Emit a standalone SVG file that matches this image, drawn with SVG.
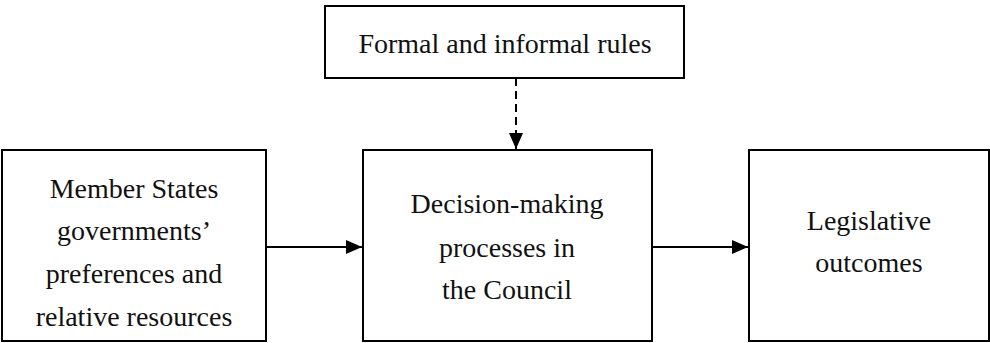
<svg xmlns="http://www.w3.org/2000/svg" width="990" height="343" viewBox="0 0 990 343">
<style>
.box{fill:#fff;stroke:#000;stroke-width:2}
.t{font-family:"Liberation Serif","Times New Roman",serif;font-size:28px;fill:#111;text-anchor:middle}
.c{stroke:#000;stroke-width:2;fill:none}
</style>
<defs>
<marker id="ah" viewBox="0 0 16 14" refX="16" refY="7" markerWidth="16" markerHeight="14" markerUnits="userSpaceOnUse" orient="auto">
<path d="M0,0 L16,7 L0,14 Z" fill="#000"/>
</marker>
</defs>
<rect width="990" height="343" fill="#fff"/>
<g id="rules">
<rect class="box" x="325" y="6" width="359" height="72"/>
<text class="t" x="505" y="53">Formal and informal rules</text>
</g>
<g id="member-states">
<rect class="box" x="2" y="150" width="264" height="191"/>
<text class="t" x="134" y="198">Member States</text>
<text class="t" x="134" y="240">governments’</text>
<text class="t" x="134" y="283">preferences and</text>
<text class="t" x="134" y="326">relative resources</text>
</g>
<g id="decision">
<rect class="box" x="363" y="150" width="289" height="191"/>
<text class="t" x="507" y="213">Decision-making</text>
<text class="t" x="507" y="257">processes in</text>
<text class="t" x="507" y="299">the Council</text>
</g>
<g id="outcomes">
<rect class="box" x="749" y="150" width="240" height="191"/>
<text class="t" x="869" y="230">Legislative</text>
<text class="t" x="869" y="272">outcomes</text>
</g>
<g id="connectors">
<line class="c" x1="516" y1="78" x2="516" y2="149" stroke-dasharray="8,5" marker-end="url(#ah)"/>
<line class="c" x1="266" y1="247" x2="362" y2="247" marker-end="url(#ah)"/>
<line class="c" x1="652" y1="247" x2="748" y2="247" marker-end="url(#ah)"/>
</g>
</svg>
